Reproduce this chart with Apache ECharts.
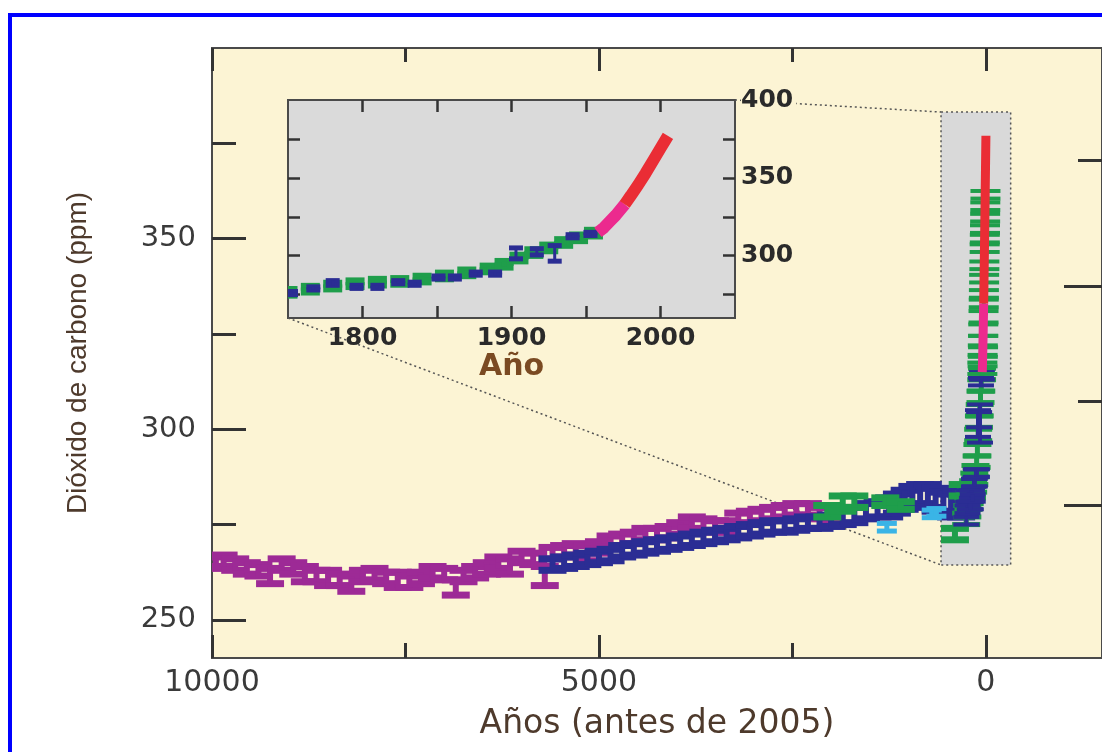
<!DOCTYPE html>
<html>
<head>
<meta charset="utf-8">
<title>Dióxido de carbono</title>
<script src="https://cdn.jsdelivr.net/npm/echarts@6/dist/echarts.min.js"></script>
<style>
html, body { margin: 0; padding: 0; background: #ffffff; }
#chart { width: 1102px; height: 752px; }
</style>
</head>
<body>
<div id="chart"></div>
<script>
// ice core records, [years before 2005, ppm, error]
var magentaCore = [
    [9950, 265, 1.5], [9850, 265.5, 1.5], [9700, 264.5, 1.5], [9550, 263.5, 1.5],
    [9400, 263, 1.5], [9250, 261.5, 2], [9100, 264.5, 1.5], [8950, 263.5, 1.5],
    [8800, 262, 2], [8650, 261.5, 1.5], [8500, 261, 2], [8350, 260.5, 1.5],
    [8200, 259.5, 2], [8050, 261.5, 1.5], [7900, 262, 1.5], [7750, 261, 1.5],
    [7600, 260.5, 2], [7450, 260, 1.5], [7300, 261, 1.5], [7150, 262.5, 1.5],
    [7000, 262, 1.5], [6850, 258.5, 2], [6750, 261.5, 1.5], [6600, 262.5, 1.5],
    [6450, 263.5, 1.5], [6300, 265, 1.5], [6150, 264, 2], [6000, 266.5, 1.5],
    [5850, 266, 1.5], [5700, 261.5, 2.5], [5600, 267.5, 1.5], [5450, 268, 1.5],
    [5300, 268.5, 1.5], [5150, 267.5, 2], [5000, 269, 1.5], [4850, 270.5, 1.5],
    [4700, 271, 1.5], [4550, 271.5, 1.5], [4400, 272.5, 1.5], [4250, 272.5, 1.5],
    [4100, 273, 1.5], [3950, 274, 1.5], [3800, 275.5, 1.5], [3650, 275, 1.5],
    [3500, 274.5, 1.5], [3350, 274.5, 1.5], [3200, 276.5, 1.5], [3050, 277, 1.5],
    [2900, 277.5, 1.5], [2750, 278, 1.5], [2600, 278.5, 1.5], [2450, 279, 1.5],
    [2300, 279, 1.5], [2150, 278, 1.5], [2000, 277.5, 2]
];
var navyCore = [
    [5600, 264.5, 1.5], [5450, 265, 1.5], [5300, 265.5, 1.5], [5150, 266, 1.5],
    [5000, 266.5, 1.5], [4850, 267, 1.5], [4700, 268, 1.5], [4550, 268.5, 1.5],
    [4400, 269, 1.5], [4250, 269.5, 1.5], [4100, 270, 1.5], [3950, 270.5, 1.5],
    [3800, 271, 1.5], [3650, 271.5, 1.5], [3500, 272, 1.5], [3350, 272.5, 1.5],
    [3200, 273, 1.5], [3050, 273.5, 1.5], [2900, 274, 1.5], [2750, 274.5, 1.5],
    [2600, 274.5, 1.5], [2450, 275, 1.5], [2300, 275.5, 1.5], [2150, 275.5, 1.5],
    [2000, 276, 1.5], [1850, 277, 2], [1700, 277.5, 2], [1550, 278.5, 2],
    [1400, 279, 2], [1250, 279.5, 2.5], [1150, 280.5, 2.5], [1050, 281.5, 2.5],
    [950, 282.5, 2.5], [850, 283, 2.5], [750, 282.5, 3], [650, 281.5, 3],
    [550, 280.5, 3], [450, 280, 3], [380, 281, 3], [320, 280, 3], [260, 281.5, 2.5]
];
var greenCore = [
    [2050, 278.5, 1.5], [1850, 280.5, 2], [1700, 281, 1.5], [1300, 281, 1],
    [1100, 280, 1], [400, 272.5, 1.5], [300, 284, 1.5]
];
var cyanCore = [
    [1280, 274.3, 1], [700, 277.8, 1], [640, 278.2, 1]
];

// recent records, [calendar year, ppm, error]
var firnNavy = [
    [1752, 276, 1], [1767, 279, 1], [1780, 282.5, 1.5], [1796, 280, 1],
    [1810, 280, 1], [1824, 283, 1], [1835, 282, 1], [1851, 286, 1],
    [1862, 286, 1], [1876, 288.5, 1], [1889, 288.5, 1], [1903, 301.5, 3.5],
    [1917, 302.5, 2], [1929, 301.5, 5], [1941, 312.5, 1], [1953, 314, 1]
];
var firnGreen = [
    [1750, 276.5, 1.5], [1765, 278.5, 1.5], [1780, 280.5, 1.5], [1795, 282, 1.5],
    [1810, 283, 1.5], [1825, 283.5, 1.5], [1840, 285, 1.5], [1855, 287, 1.5],
    [1870, 289, 1.5], [1885, 291.5, 1.5], [1895, 294.5, 1.5], [1905, 298.5, 1.5],
    [1915, 302, 1.5], [1925, 305, 1.5], [1935, 308.5, 1.5], [1945, 311.5, 1.5],
    [1955, 314.5, 1.5]
];
var recentGreen = [
    [1959, 316, 1.5], [1962, 318, 1.5], [1965, 320.5, 1.5], [1968, 323, 1.5],
    [1971, 326, 1.5], [1974, 329.5, 1.5], [1977, 333, 1], [1979, 335.5, 1],
    [1982, 339.5, 1], [1985, 343, 1], [1989, 347.5, 1], [1991, 350, 1],
    [1993, 352.5, 1], [1995, 355.5, 1], [1997, 358.5, 1], [1999, 361.5, 1]
];
var pinkRecords = [[1958, 315], [1962, 318], [1966, 322], [1970, 326], [1976, 333]];
var redRecords = [[1976, 333], [1980, 338.5], [1985, 345.5], [1990, 353], [1995, 361], [2000, 369], [2005, 377]];

// tick positions
var bottomMajor = [0, 5000, 10000];
var bottomMinor = [2500, 7500];
var leftMajor = [250, 300, 350];
var leftMinor = [275, 325, 375];
var forcingMajor = [0, 1];
var forcingMinor = [0.5, 1.5];
var insetYearTicks = [1800, 1850, 1900, 1950, 2000];
var insetYearLabels = [1800, 1900, 2000];
var insetPpmTicks = [275, 300, 325, 350, 375];
var insetPpmLabels = [300, 350, 400];

// region enlarged in the inset (years before 2005 / ppm)
var zoomBox = { x0: 580, x1: -320, y0: 264.4, y1: 383.2 };

function beforeRef(rows) {
    return rows.map(function (r) { return [2005 - r[0], r[1], r[2]]; });
}
// right-hand ticks of the forcing scale (W m-2), placed on the ppm axis
function forcingToPpm(list) {
    return list.map(function (f) { return 280 * Math.exp(f / 5.35); });
}

function errorBars(color, w, cap, stem) {
    return function (params, api) {
        var x = api.value(0), y = api.value(1), e = api.value(2) || 0;
        var c = api.coord([x, y]);
        var top = api.coord([x, y + e])[1];
        var bot = api.coord([x, y - e])[1];
        return {
            type: 'group',
            children: [
                { type: 'rect', shape: { x: c[0] - w / 2, y: top - cap / 2, width: w, height: cap }, style: { fill: color } },
                { type: 'rect', shape: { x: c[0] - w / 2, y: bot - cap / 2, width: w, height: cap }, style: { fill: color } },
                { type: 'rect', shape: { x: c[0] - stem / 2, y: top, width: stem, height: bot - top }, style: { fill: color } }
            ]
        };
    };
}

var dom = document.getElementById('chart');
var myChart = echarts.init(dom, null, { renderer: 'canvas' });

var tickStyle = { color: '#333333', width: 3 };
var insetTick = { color: '#333333', width: 2.5 };
var plain = function (v) { return String(v); };
var noLine = { show: false, onZero: false };
var mainX = { type: 'value', gridIndex: 0, min: -1500, max: 10000, inverse: true, splitLine: { show: false }, axisLine: noLine };
var mainY = { type: 'value', gridIndex: 0, min: 240, max: 400, splitLine: { show: false }, axisLine: noLine };
var insetX = { type: 'value', gridIndex: 1, min: 1750, max: 2050, interval: 50, splitLine: { show: false }, axisLine: noLine };
var insetY = { type: 'value', gridIndex: 1, min: 260, max: 400, splitLine: { show: false }, axisLine: noLine };

function ext(base, more) { return Object.assign({}, base, more); }

var option = {
    animation: false,
    backgroundColor: '#ffffff',
    grid: [
        { left: 212, top: 48, right: -4, bottom: 94, show: true, backgroundColor: '#fcf4d4', borderColor: '#4a4a4a', borderWidth: 2 },
        { left: 288, top: 100, width: 447, height: 218, show: true, backgroundColor: '#dadada', borderColor: '#4a4a4a', borderWidth: 2 }
    ],
    xAxis: [
        ext(mainX, {
            position: 'bottom',
            axisTick: { inside: true, length: 23, customValues: bottomMajor, lineStyle: tickStyle },
            axisLabel: { customValues: bottomMajor, formatter: plain, fontFamily: 'DejaVu Sans', fontSize: 30, color: '#3a3a3a', margin: 10 },
            name: 'Años (antes de 2005)', nameLocation: 'middle', nameGap: 50,
            nameTextStyle: { fontFamily: 'DejaVu Sans', fontSize: 33, color: '#4e3a2c' }
        }),
        ext(mainX, { position: 'bottom', axisTick: { inside: true, length: 15, customValues: bottomMinor, lineStyle: tickStyle }, axisLabel: { show: false } }),
        ext(mainX, { position: 'top', axisTick: { inside: true, length: 23, customValues: bottomMajor, lineStyle: tickStyle }, axisLabel: { show: false } }),
        ext(mainX, { position: 'top', axisTick: { inside: true, length: 14, customValues: bottomMinor, lineStyle: tickStyle }, axisLabel: { show: false } }),
        ext(insetX, {
            position: 'bottom',
            axisTick: { inside: true, length: 12, customValues: insetYearTicks, lineStyle: insetTick },
            axisLabel: { customValues: insetYearLabels, formatter: plain, fontFamily: 'DejaVu Sans', fontWeight: 'bold', fontSize: 25, color: '#2a2a2a', margin: 8 },
            name: 'Año', nameLocation: 'middle', nameGap: 32,
            nameTextStyle: { fontFamily: 'DejaVu Sans', fontWeight: 'bold', fontSize: 30, color: '#7a4a22' }
        }),
        ext(insetX, { position: 'top', axisTick: { inside: true, length: 12, customValues: insetYearTicks, lineStyle: insetTick }, axisLabel: { show: false } })
    ],
    yAxis: [
        ext(mainY, {
            position: 'left',
            axisTick: { inside: true, length: 34, customValues: leftMajor, lineStyle: tickStyle },
            axisLabel: { customValues: leftMajor, fontFamily: 'DejaVu Sans', fontSize: 29, color: '#3a3a3a', margin: 16 },
            name: 'Dióxido de carbono (ppm)', nameLocation: 'middle', nameGap: 120,
            nameTextStyle: { fontFamily: 'Liberation Sans', fontSize: 28, color: '#4e3a2c' }
        }),
        ext(mainY, { position: 'left', axisTick: { inside: true, length: 24, customValues: leftMinor, lineStyle: tickStyle }, axisLabel: { show: false } }),
        ext(mainY, { position: 'right', axisTick: { inside: true, length: 38, customValues: forcingToPpm(forcingMajor), lineStyle: tickStyle }, axisLabel: { show: false } }),
        ext(mainY, { position: 'right', axisTick: { inside: true, length: 24, customValues: forcingToPpm(forcingMinor), lineStyle: tickStyle }, axisLabel: { show: false } }),
        ext(insetY, { position: 'left', axisTick: { inside: true, length: 12, customValues: insetPpmTicks, lineStyle: insetTick }, axisLabel: { show: false } }),
        ext(insetY, {
            position: 'right',
            axisTick: { inside: true, length: 12, customValues: insetPpmTicks, lineStyle: insetTick },
            axisLabel: { customValues: insetPpmLabels, fontFamily: 'DejaVu Sans', fontWeight: 'bold', fontSize: 25, color: '#2a2a2a', margin: 6, backgroundColor: '#fcf4d4', padding: [0, 3, 0, 0] }
        })
    ],
    series: [
        {
            type: 'line', xAxisIndex: 0, yAxisIndex: 0, data: [], silent: true,
            markArea: {
                silent: true,
                itemStyle: { color: '#d9d9d9', borderColor: '#555555', borderWidth: 1.5, borderType: [2, 3] },
                data: [[{ coord: [zoomBox.x0, zoomBox.y1] }, { coord: [zoomBox.x1, zoomBox.y0] }]]
            }
        },
        { type: 'custom', xAxisIndex: 0, yAxisIndex: 0, clip: true, data: magentaCore, renderItem: errorBars('#9d2a96', 28, 7, 6) },
        { type: 'custom', xAxisIndex: 0, yAxisIndex: 0, clip: true, data: navyCore, renderItem: errorBars('#2b2d94', 28, 7, 6) },
        { type: 'custom', xAxisIndex: 0, yAxisIndex: 0, clip: true, data: greenCore, renderItem: errorBars('#1f9e4b', 28, 7, 6) },
        { type: 'custom', xAxisIndex: 0, yAxisIndex: 0, clip: true, data: cyanCore, renderItem: errorBars('#3ab4e6', 20, 5, 5) },
        { type: 'custom', xAxisIndex: 0, yAxisIndex: 0, clip: true, data: beforeRef(firnGreen), renderItem: errorBars('#1f9e4b', 28, 5, 5) },
        { type: 'custom', xAxisIndex: 0, yAxisIndex: 0, clip: true, data: beforeRef(firnNavy), renderItem: errorBars('#2b2d94', 26, 4, 4) },
        { type: 'custom', xAxisIndex: 0, yAxisIndex: 0, clip: true, data: beforeRef(recentGreen), renderItem: errorBars('#1f9e4b', 30, 4, 4) },
        { type: 'line', xAxisIndex: 0, yAxisIndex: 0, data: beforeRef(pinkRecords), symbol: 'none', lineStyle: { color: '#ec2a8e', width: 9 } },
        { type: 'line', xAxisIndex: 0, yAxisIndex: 0, data: beforeRef(redRecords), symbol: 'none', lineStyle: { color: '#ea2d35', width: 9 } },

        { type: 'custom', xAxisIndex: 4, yAxisIndex: 4, clip: true, data: firnGreen, renderItem: errorBars('#1f9e4b', 19, 8, 5) },
        { type: 'custom', xAxisIndex: 4, yAxisIndex: 4, clip: true, data: firnNavy, renderItem: errorBars('#2b2d94', 14, 5, 3) },
        { type: 'line', xAxisIndex: 4, yAxisIndex: 4, data: pinkRecords, symbol: 'none', lineStyle: { color: '#ec2a8e', width: 12 } },
        { type: 'line', xAxisIndex: 4, yAxisIndex: 4, data: redRecords, symbol: 'none', lineStyle: { color: '#ea2d35', width: 12 } }
    ]
};

myChart.setOption(option);

// dotted connectors between the inset and the enlarged region, plus the outer frame
var insetTR = myChart.convertToPixel({ xAxisIndex: 4, yAxisIndex: 4 }, [2050, 400]);
var insetBL = myChart.convertToPixel({ xAxisIndex: 4, yAxisIndex: 4 }, [1750, 260]);
var boxTL = myChart.convertToPixel({ xAxisIndex: 0, yAxisIndex: 0 }, [zoomBox.x0, zoomBox.y1]);
var boxBL = myChart.convertToPixel({ xAxisIndex: 0, yAxisIndex: 0 }, [zoomBox.x0, zoomBox.y0]);
var dotted = { stroke: '#555555', lineWidth: 1.5, lineDash: [2, 3] };

myChart.setOption({
    graphic: [
        { type: 'line', z: 0, shape: { x1: insetTR[0], y1: insetTR[1], x2: boxTL[0], y2: boxTL[1] }, style: dotted, silent: true },
        { type: 'line', z: 0, shape: { x1: insetBL[0], y1: insetBL[1], x2: boxBL[0], y2: boxBL[1] }, style: dotted, silent: true },
        { type: 'rect', z: 100, shape: { x: 10, y: 15, width: 1200, height: 800 }, style: { fill: null, stroke: '#0000ff', lineWidth: 4 }, silent: true }
    ]
});
</script>
</body>
</html>
